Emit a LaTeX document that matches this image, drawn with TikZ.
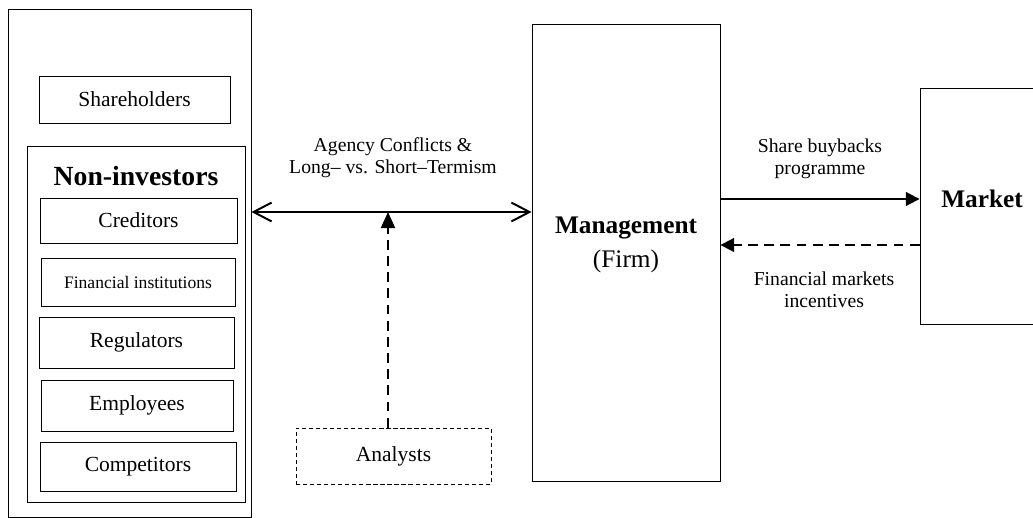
\documentclass[tikz,border=0pt]{standalone}
\usepackage{fontspec}
\setmainfont{Liberation Serif}
\usetikzlibrary{arrows.meta,positioning,calc}

\begin{document}
\begin{tikzpicture}[x=0.025cm, y=-0.025cm,
    box/.style={rectangle, draw, line width=0.6pt, inner sep=0pt, font=\fontsize{15.3}{18}\selectfont},
    dashbox/.style={box, dash pattern=on 3pt off 2pt},
    lbl/.style={align=center, font=\fontsize{14}{15.6}\selectfont},
    link/.style={line width=1.4pt},
    dashlink/.style={link, dash pattern=on 7pt off 4.5pt}]
	\useasboundingbox (0,0) rectangle (1033,518);
	
	% stakeholders column
	\node[box, minimum width=6.075cm, minimum height=12.7cm] (outer) at (129.5,263) {};
	\node[box, minimum width=4.775cm, minimum height=1.175cm] (share) at (134.5,99.5) {Shareholders};
	\node[box, minimum width=5.45cm, minimum height=8.9cm] (noninv) at (136,324) {};
	\node[font=\fontsize{19.7}{22}\selectfont\bfseries] (noninvtitle) at (136,176) {Non-investors};
	\node[box, minimum width=4.925cm, minimum height=1.125cm] (cred) at (138.5,220.5) {Creditors};
	\node[box, minimum width=4.85cm, minimum height=1.2cm, font=\fontsize{12.5}{15}\selectfont] (fininst) at (138,282) {Financial institutions};
	\node[box, minimum width=4.875cm, minimum height=1.275cm] (reg) at (136.5,342.5) {Regulators};
	\node[box, minimum width=4.8cm, minimum height=1.275cm] (empl) at (137,405.5) {Employees};
	\node[box, minimum width=4.9cm, minimum height=1.225cm] (comp) at (138,466.5) {Competitors};
	
	% firm and market
	\node[box, minimum width=4.7cm, minimum height=11.425cm] (mgmt) at (626,252.5) {};
	\node[align=center, font=\fontsize{18}{24}\selectfont] (mgmttext) at (626,245) {\textbf{Management}\\(Firm)};
	\node[box, minimum width=3.125cm, minimum height=5.9cm] (market) at (982.5,206) {};
	\node[font=\fontsize{18}{22}\selectfont\bfseries] (markettext) at (982,199) {Market};
	\node[dashbox, minimum width=4.875cm, minimum height=1.4cm] (analysts) at (393.5,456) {Analysts};
	
	% labels
	\node[lbl] (agency) at (393,158) {Agency Conflicts \&\\Long-- vs. Short--Termism};
	\node[lbl] (buyback) at (820,159) {Share buybacks\\programme};
	\node[lbl] (incent) at (824,290) {Financial markets\\incentives};
	
	\coordinate (mid) at (388,212);
	\coordinate (buy) at (820,199);
	\coordinate (inc) at (820,245);
	
	\draw[link, {Straight Barb[length=4.5mm,width=4.7mm]}-{Straight Barb[length=4.5mm,width=4.7mm]}] (mid -| outer.east) -- (mid -| mgmt.west);
	\draw[dashlink, -{Triangle[length=4mm,width=3.5mm]}] (analysts.north -| mid) -- (mid);
	\draw[link, -{Triangle[length=3.4mm,width=3.4mm]}] (buy -| mgmt.east) -- (buy -| market.west);
	\draw[dashlink, -{Triangle[length=3.4mm,width=3.4mm]}] (inc -| market.west) -- (inc -| mgmt.east);
\end{tikzpicture}
\end{document}
